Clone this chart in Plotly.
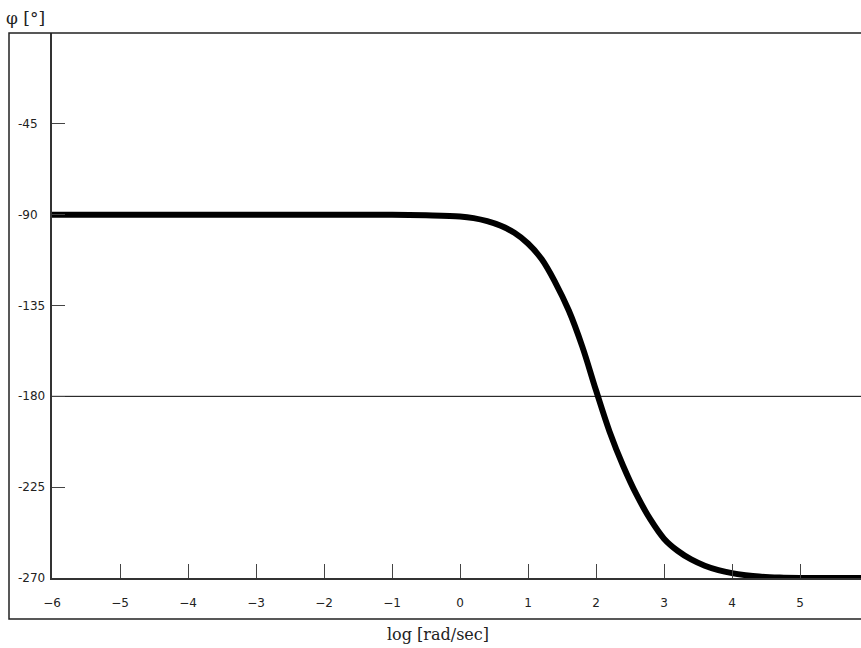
import plotly.graph_objects as go

# Phase response: log10 of frequency vs phase in degrees
log_w = [-6, -5, -4, -3, -2, -1, -0.5, 0, 0.2, 0.4, 0.6, 0.8, 1.0, 1.2, 1.4,
         1.6, 1.8, 2.0, 2.2, 2.4, 2.6, 2.8, 3.0, 3.2, 3.4, 3.6, 3.8, 4.0,
         4.2, 4.4, 4.7, 5, 6]
phase = [-90, -90, -90, -90, -90, -90, -90.3, -90.9, -91.7, -93.2, -95.5,
         -99.0, -104.3, -112.0, -123.5, -137.5, -155.5, -177.0, -197.5,
         -214.5, -229.0, -241.0, -250.5, -256.5, -260.8, -263.9, -266.1,
         -267.6, -268.6, -269.3, -269.8, -270, -270]

x_ticks = [-6, -5, -4, -3, -2, -1, 0, 1, 2, 3, 4, 5]
y_ticks = [0, -45, -90, -135, -180, -225, -270]
y_tick_labels = ["-45", "-90", "-135", "-180", "-225", "-270"]
y_label_vals = [-45, -90, -135, -180, -225, -270]

W, H = 861, 648
L, R, T, B = 52, 0, 33, 70
pw = W - L - R
ph = H - T - B


def px_x(px):
    return (px - L) / pw


def px_y(py):
    return (H - B - py) / ph


fig = go.Figure()
fig.add_trace(go.Scatter(
    x=log_w, y=phase, mode="lines",
    line=dict(color="black", width=6, shape="spline", smoothing=1.0),
    hoverinfo="skip", showlegend=False,
))

shapes = [
    # reference line at -180 degrees
    dict(type="line", xref="paper", yref="y", x0=0, x1=1, y0=-180, y1=-180,
         line=dict(color="black", width=1), layer="below"),
    # outer frame
    dict(type="rect", xref="paper", yref="paper",
         x0=px_x(9), x1=1.05, y0=px_y(619), y1=1,
         line=dict(color="#222", width=1.5), layer="above"),
]

annotations = []
for v, t in zip(y_label_vals, y_tick_labels):
    annotations.append(dict(
        x=px_x(16), xref="paper", y=v, yref="y", text=t, showarrow=False,
        xanchor="left", yanchor="middle",
        font=dict(family="DejaVu Sans", size=12, color="#222"),
    ))
annotations.append(dict(
    x=px_x(4), xref="paper", y=px_y(18), yref="paper", text="φ [°]",
    showarrow=False, xanchor="left", yanchor="middle",
    font=dict(family="DejaVu Serif", size=17, color="#222"),
))
annotations.append(dict(
    x=px_x(438), xref="paper", y=px_y(634), yref="paper", text="log [rad/sec]",
    showarrow=False, xanchor="center", yanchor="middle",
    font=dict(family="DejaVu Serif", size=16, color="#222"),
))

fig.update_layout(
    width=W, height=H,
    margin=dict(l=L, r=R, t=T, b=B, pad=0),
    paper_bgcolor="white", plot_bgcolor="white",
    shapes=shapes, annotations=annotations,
    xaxis=dict(
        range=[-6, -6 + pw / 68.0], tickvals=x_ticks,
        ticks="inside", ticklen=14, tickwidth=1, tickcolor="#444",
        showline=True, linecolor="#333", linewidth=1.5,
        showgrid=False, zeroline=False, ticklabelstandoff=13,
        tickfont=dict(family="DejaVu Sans", size=12, color="#222"),
    ),
    yaxis=dict(
        range=[-270, 0], tickvals=y_ticks,
        ticks="inside", ticklen=13, tickwidth=1, tickcolor="#444",
        showline=True, linecolor="#333", linewidth=1.5,
        showgrid=False, zeroline=False, showticklabels=False,
    ),
)

fig.write_html("out.html")
